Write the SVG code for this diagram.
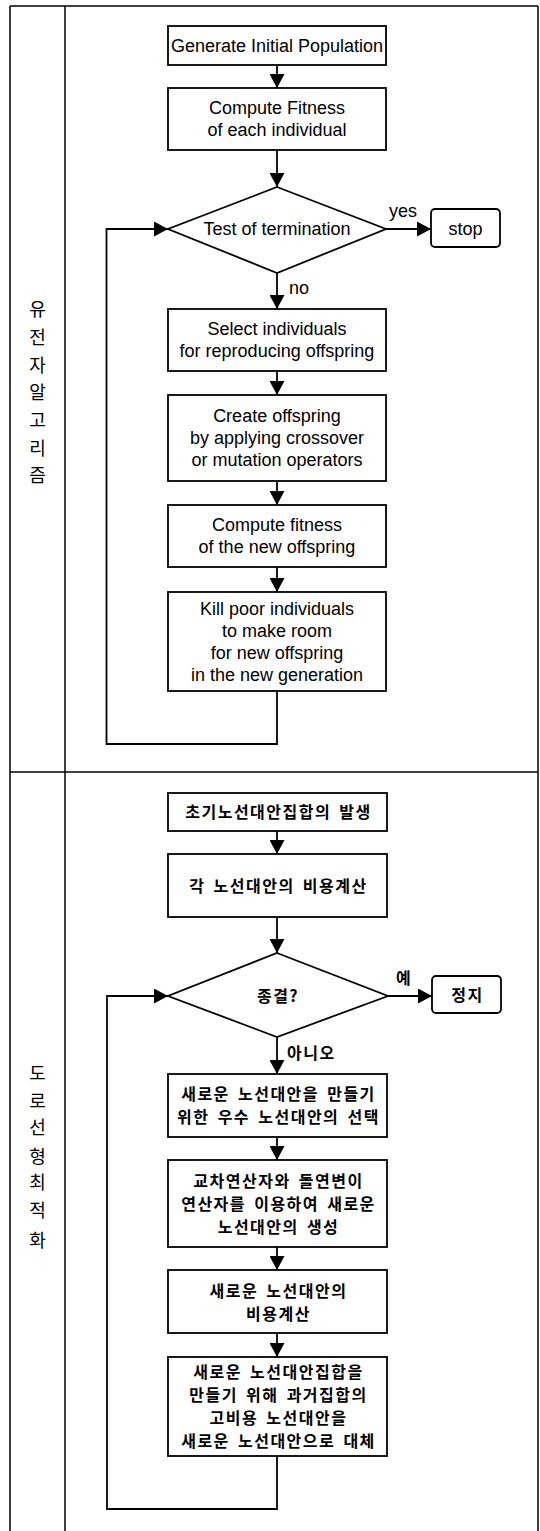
<svg xmlns="http://www.w3.org/2000/svg" width="540" height="1531" viewBox="0 0 540 1531">
<style>
.frame{fill:none;stroke:#000;stroke-width:1.5}
.box{fill:#fff;stroke:#000;stroke-width:1.8}
.ln{fill:none;stroke:#000;stroke-width:1.8}
.en{font-family:"Liberation Sans",Arial,sans-serif;font-size:18px;fill:#000;text-anchor:middle}
.ko{font-family:"Noto Sans CJK KR","Noto Sans",sans-serif;font-size:16px;font-weight:bold;fill:#000;text-anchor:middle;letter-spacing:1.5px;word-spacing:3px}
.side{font-family:"Noto Sans CJK KR","Noto Sans",sans-serif;font-size:18px;fill:#000;text-anchor:middle}
</style>
<defs>
<marker id="ah" viewBox="0 0 14 15" refX="14" refY="7.5" markerWidth="14" markerHeight="15" markerUnits="userSpaceOnUse" orient="auto">
<path d="M0,0 L14,7.5 L0,15 Z" fill="#000"/>
</marker>
</defs>
<rect width="540" height="1531" fill="#fff"/>
<g id="frame">
<line class="frame" x1="10" y1="6" x2="538" y2="6"/>
<line class="frame" x1="10" y1="6" x2="10" y2="1531"/>
<line class="frame" x1="65" y1="6" x2="65" y2="1531"/>
<line class="frame" x1="538" y1="6" x2="538" y2="1531"/>
<line class="frame" x1="10" y1="772" x2="538" y2="772"/>
</g>
<g id="label-ga">
<text class="side" x="37.5" y="316">유</text>
<text class="side" x="37.5" y="344">전</text>
<text class="side" x="37.5" y="372">자</text>
<text class="side" x="37.5" y="399">알</text>
<text class="side" x="37.5" y="427">고</text>
<text class="side" x="37.5" y="455">리</text>
<text class="side" x="37.5" y="482">즘</text>
</g>
<g id="label-road">
<text class="side" x="37.5" y="1080">도</text>
<text class="side" x="37.5" y="1108">로</text>
<text class="side" x="37.5" y="1134">선</text>
<text class="side" x="37.5" y="1163">형</text>
<text class="side" x="37.5" y="1189">최</text>
<text class="side" x="37.5" y="1217">적</text>
<text class="side" x="37.5" y="1247">화</text>
</g>
<g id="connectors">
<line class="ln" x1="277" y1="65" x2="277" y2="88" marker-end="url(#ah)"/>
<line class="ln" x1="277" y1="150" x2="277" y2="187" marker-end="url(#ah)"/>
<line class="ln" x1="386" y1="229" x2="431" y2="229" marker-end="url(#ah)"/>
<line class="ln" x1="277" y1="273" x2="277" y2="309" marker-end="url(#ah)"/>
<line class="ln" x1="277" y1="371" x2="277" y2="395" marker-end="url(#ah)"/>
<line class="ln" x1="277" y1="481" x2="277" y2="505" marker-end="url(#ah)"/>
<line class="ln" x1="277" y1="567" x2="277" y2="592" marker-end="url(#ah)"/>
<polyline class="ln" points="277,691 277,744 106.5,744 106.5,229 168,229" marker-end="url(#ah)"/>
<text class="en" x="289" y="294" style="text-anchor:start">no</text>
<text class="en" x="389" y="217" style="text-anchor:start">yes</text>
<line class="ln" x1="277" y1="831" x2="277" y2="854" marker-end="url(#ah)"/>
<line class="ln" x1="277" y1="917" x2="277" y2="953" marker-end="url(#ah)"/>
<line class="ln" x1="388" y1="996" x2="432" y2="996" marker-end="url(#ah)"/>
<line class="ln" x1="277" y1="1037" x2="277" y2="1074" marker-end="url(#ah)"/>
<line class="ln" x1="277" y1="1137" x2="277" y2="1160" marker-end="url(#ah)"/>
<line class="ln" x1="277" y1="1247" x2="277" y2="1270" marker-end="url(#ah)"/>
<line class="ln" x1="277" y1="1333" x2="277" y2="1357" marker-end="url(#ah)"/>
<polyline class="ln" points="277,1456 277,1509 107,1509 107,996 168,996" marker-end="url(#ah)"/>
<text class="ko" x="396" y="984" style="text-anchor:start">예</text>
<text class="ko" x="287" y="1059" style="text-anchor:start">아니오</text>
</g>
<g id="n1">
<rect class="box" x="168" y="26" width="218" height="39"/>
<text class="en" x="277" y="52">Generate Initial Population</text>
</g>
<g id="n2">
<rect class="box" x="168" y="88" width="218" height="62"/>
<text class="en" x="277" y="114">Compute Fitness</text>
<text class="en" x="277" y="136">of each individual</text>
</g>
<g id="n3">
<polygon class="box" points="277,187 386,229 277,273 168,229"/>
<text class="en" x="277" y="235">Test of termination</text>
</g>
<g id="n4">
<rect class="box" x="431" y="209" width="69" height="38" rx="4"/>
<text class="en" x="465.5" y="235">stop</text>
</g>
<g id="n5">
<rect class="box" x="168" y="309" width="218" height="62"/>
<text class="en" x="277" y="335">Select individuals</text>
<text class="en" x="277" y="357">for reproducing offspring</text>
</g>
<g id="n6">
<rect class="box" x="168" y="395" width="218" height="86"/>
<text class="en" x="277" y="422">Create offspring</text>
<text class="en" x="277" y="444">by applying crossover</text>
<text class="en" x="277" y="466">or mutation operators</text>
</g>
<g id="n7">
<rect class="box" x="168" y="505" width="218" height="62"/>
<text class="en" x="277" y="531">Compute fitness</text>
<text class="en" x="277" y="553">of the new offspring</text>
</g>
<g id="n8">
<rect class="box" x="168" y="592" width="218" height="99"/>
<text class="en" x="277" y="615">Kill poor individuals</text>
<text class="en" x="277" y="637">to make room</text>
<text class="en" x="277" y="659">for new offspring</text>
<text class="en" x="277" y="681">in the new generation</text>
</g>
<g id="k1">
<rect class="box" x="168" y="793" width="219" height="38"/>
<text class="ko" x="278.5" y="818">초기노선대안집합의 발생</text>
</g>
<g id="k2">
<rect class="box" x="168" y="854" width="219" height="63"/>
<text class="ko" x="278.5" y="892">각 노선대안의 비용계산</text>
</g>
<g id="k3">
<polygon class="box" points="277,953 388,996 277,1037 168,996"/>
<text class="ko" x="278" y="1002">종결?</text>
</g>
<g id="k4">
<rect class="box" x="432" y="976" width="69" height="37" rx="4"/>
<text class="ko" x="467.5" y="1001">정지</text>
</g>
<g id="k5">
<rect class="box" x="168" y="1074" width="219" height="63"/>
<text class="ko" x="278.5" y="1100">새로운 노선대안을 만들기</text>
<text class="ko" x="278.5" y="1123">위한 우수 노선대안의 선택</text>
</g>
<g id="k6">
<rect class="box" x="168" y="1160" width="219" height="87"/>
<text class="ko" x="278.5" y="1187">교차연산자와 돌연변이</text>
<text class="ko" x="278.5" y="1210">연산자를 이용하여 새로운</text>
<text class="ko" x="278.5" y="1233">노선대안의 생성</text>
</g>
<g id="k7">
<rect class="box" x="168" y="1270" width="219" height="63"/>
<text class="ko" x="278.5" y="1297">새로운 노선대안의</text>
<text class="ko" x="278.5" y="1320">비용계산</text>
</g>
<g id="k8">
<rect class="box" x="168" y="1357" width="219" height="99"/>
<text class="ko" x="278.5" y="1378">새로운 노선대안집합을</text>
<text class="ko" x="278.5" y="1401">만들기 위해 과거집합의</text>
<text class="ko" x="278.5" y="1424">고비용 노선대안을</text>
<text class="ko" x="278.5" y="1447">새로운 노선대안으로 대체</text>
</g>
</svg>
